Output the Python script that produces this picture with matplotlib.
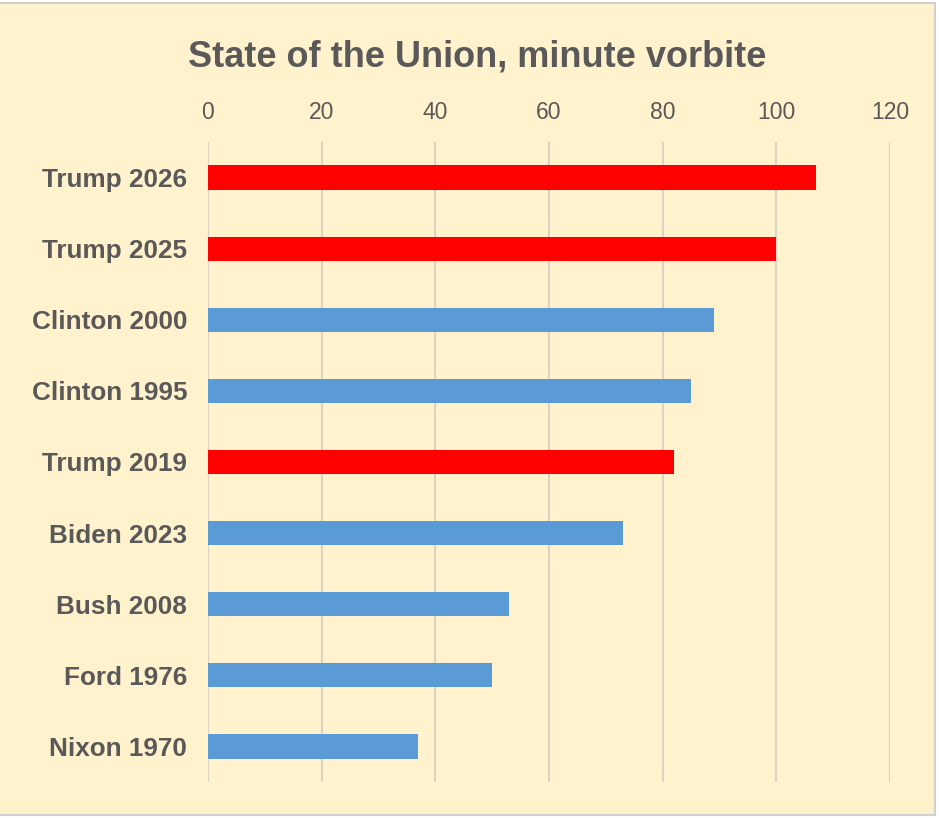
import matplotlib.pyplot as plt
from matplotlib.patches import Rectangle

# speeches, top to bottom
labels = ['Trump 2026', 'Trump 2025', 'Clinton 2000', 'Clinton 1995', 'Trump 2019',
          'Biden 2023', 'Bush 2008', 'Ford 1976', 'Nixon 1970']
minutes = [107, 100, 89, 85, 82, 73, 53, 50, 37]
is_trump = [True, True, False, False, True, False, False, False, False]
xticks = [0, 20, 40, 60, 80, 100, 120]

plt.rcParams['font.family'] = ['Liberation Sans', 'DejaVu Sans']

fig = plt.figure(figsize=(9.39, 8.18), dpi=100)
fig.patch.set_facecolor('white')
# chart area background, like the spreadsheet chart object
fig.patches.append(Rectangle((-2 / 939, 3 / 818), 937 / 939, 812 / 818,
                             transform=fig.transFigure, facecolor='#FFF2CC',
                             edgecolor='#D0D0D0', linewidth=1.5, zorder=-1))

ax = fig.add_axes([208 / 939, 1 - 782 / 818, 682 / 939, 640 / 818])
ax.set_zorder(2)
ax.set_facecolor('none')

colors = ['#FF0000' if t else '#5B9BD5' for t in is_trump]
ypos = list(range(len(labels)))
ax.barh(ypos, minutes, height=0.34, color=colors, zorder=3)

ax.set_ylim(len(labels) - 0.5, -0.5)
ax.set_yticks(ypos)
ax.set_yticklabels(labels, fontsize=18.8, fontweight='bold', color='#595959')
ax.set_xlim(0, 120)
ax.set_xticks(xticks)
ax.set_xticklabels([str(v) for v in xticks], fontsize=16.5, color='#595959')
ax.xaxis.tick_top()
ax.tick_params(axis='both', length=0)
ax.tick_params(axis='x', pad=13)
ax.tick_params(axis='y', pad=15)
ax.grid(axis='x', color='#D9D4C4', linewidth=1.5, zorder=0)
for s in ax.spines.values():
    s.set_visible(False)

fig.text(477 / 939, 1 - 57 / 818, 'State of the Union, minute vorbite',
         ha='center', va='center', fontsize=26, fontweight='bold', color='#595959')

fig.savefig('out.png', dpi=100, facecolor=fig.get_facecolor())
